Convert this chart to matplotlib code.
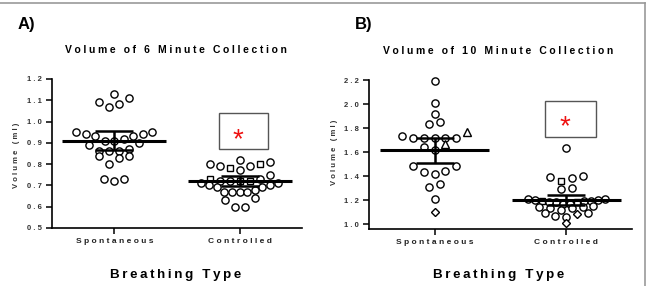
import numpy as np
import matplotlib
matplotlib.use("Agg")
import matplotlib.pyplot as plt
from matplotlib.patches import Rectangle
from matplotlib.lines import Line2D

plt.rcParams['font.family'] = ['Liberation Sans', 'DejaVu Sans']
plt.rcParams['font.weight'] = 'bold'

categories = ["Spontaneous", "Controlled"]

# Panel A: volume of 6 minute collection (ml)
a_spont = [1.13, 1.11, 1.09, 1.08, 1.07,
           0.95, 0.95, 0.94, 0.94, 0.93, 0.93, 0.92, 0.91, 0.91,
           0.90, 0.89, 0.87, 0.86, 0.86, 0.86,
           0.84, 0.84, 0.83, 0.80, 0.73, 0.73, 0.72]
a_spont_mk = ['o'] * len(a_spont)
a_ctrl = [0.82, 0.81, 0.80, 0.80, 0.79, 0.79, 0.78, 0.77,
          0.75, 0.73, 0.73, 0.72, 0.72, 0.72, 0.72,
          0.71, 0.71, 0.70, 0.70, 0.69, 0.69, 0.68, 0.67, 0.67, 0.67, 0.67,
          0.64, 0.63, 0.60, 0.60]
a_ctrl_mk = ['o', 'o', 's', 'o', 'o', 'o', 's', 'o',
             'o', 'o', 's', 's', 'o', 's', 'o',
             'o', 'o', 'o', 'o', 'o', 'o', 'o', 'o', 'o', 'o', 'o',
             'o', 'o', 'o', 'o']
a_mean = [0.91, 0.72]
a_err = [0.045, 0.022]

# Panel B: volume of 10 minute collection (ml)
b_spont = [2.19, 2.01, 1.92, 1.85, 1.83,
           1.77, 1.73, 1.72, 1.72, 1.72, 1.72, 1.72,
           1.67, 1.64, 1.62,
           1.48, 1.48, 1.44, 1.43, 1.42,
           1.33, 1.31, 1.21, 1.10]
b_spont_mk = ['o', 'o', 'o', 'o', 'o',
              '^', 'o', 'o', 'o', 'o', 'o', 'o',
              '^', 'o', 'o',
              'o', 'o', 'o', 'o', 'o',
              'o', 'o', 'o', 'D']
b_ctrl = [1.63, 1.40, 1.39, 1.38, 1.36, 1.30, 1.29,
          1.21, 1.21, 1.20, 1.20, 1.19, 1.19, 1.19, 1.18, 1.18, 1.18, 1.17, 1.17,
          1.15, 1.14, 1.14, 1.13, 1.13, 1.12,
          1.09, 1.09, 1.08, 1.07, 1.06, 1.01]
b_ctrl_mk = ['o', 'o', 'o', 'o', 's', 'o', 'o',
             'o', 'o', 'o', 'o', 'o', 's', 'o', 'o', 's', 'o', 'o', 'o',
             'o', 'o', 'o', 'o', 'o', 'o',
             'o', 'o', 'D', 'o', 'o', 'D']
b_mean = [1.615, 1.20]
b_err = [0.105, 0.045]

SEP = '\u2005'


def spaced(s, sep=SEP):
    return sep.join(s)


def row_layout(values, pxx, pxy, binh, step, maxw):
    """Prism-like scatter: bin values (bottom-up) into rows, spread each row."""
    values = np.asarray(values, dtype=float)
    idx = sorted(range(len(values)), key=lambda i: values[i])
    rows, cur, start = [], [], None
    for i in idx:
        if start is None or (values[i] - start) * pxy > binh:
            if cur:
                rows.append(cur)
            cur, start = [i], values[i]
        else:
            cur.append(i)
    if cur:
        rows.append(cur)
    xs = np.zeros(len(values))
    for r in rows:
        n = len(r)
        s = step if n < 2 else min(step, maxw / (n - 1))
        slots = [(k - (n - 1) / 2.0) * s for k in range(n)]
        slots = sorted(slots, key=lambda o: (round(abs(o), 6), o))
        r_sorted = sorted(r, key=lambda i: values[i])
        for i, o in zip(r_sorted, slots):
            xs[i] = o / pxx
    return xs


fig = plt.figure(figsize=(6.47, 2.86), dpi=100)
axA = fig.add_axes([0.080, 0.203, 0.387, 0.521])
axB = fig.add_axes([0.570, 0.199, 0.407, 0.521])

ms_map = {'o': 5.2, 's': 5.0, '^': 5.5, 'D': 3.6}


def draw(ax, groups, markers, means, errs, ylim, yticks, fmt, box, ast,
         pxx, pxy, binhs, step):
    ax.set_xlim(-0.5, 1.5)
    ax.set_ylim(*ylim)
    for i, (vals, mks) in enumerate(zip(groups, markers)):
        off = row_layout(vals, pxx, pxy, binhs[i], step, 76.0)
        for xo, v, m in zip(off, vals, mks):
            ax.plot(i + xo, v, marker=m, ms=ms_map[m], mfc='white', mec='black',
                    mew=1.0, ls='none', zorder=3, clip_on=False)
        ax.hlines(means[i], i - 0.415, i + 0.415, color='black', lw=2.2, zorder=5)
        ax.errorbar(i, means[i], yerr=errs[i], color='black', lw=1.8,
                    capsize=14, capthick=1.8, zorder=5)
    x0, y0, w, h = box
    ax.add_patch(Rectangle((x0, y0), w, h, fill=True, fc='white', ec='#555555',
                           lw=1.0, zorder=2))
    ax.text(ast[0], ast[1], '*', color='#ee1111', fontsize=20, ha='center',
            va='center', fontweight='normal', zorder=3)
    for sp in ['top', 'right']:
        ax.spines[sp].set_visible(False)
    for sp in ['left', 'bottom']:
        ax.spines[sp].set_linewidth(1.2)
    ax.set_yticks(yticks)
    ax.set_yticklabels([spaced(fmt % t, ' ') for t in yticks], fontsize=5.5,
                       color='#333333', fontweight='bold')
    ax.set_xticks([0, 1])
    ax.set_xticklabels([spaced(c, ' ') for c in categories], fontsize=6,
                       color='#222222', fontweight='bold')
    ax.tick_params(axis='both', length=4, width=1.1, direction='out', pad=3)


draw(axA, [a_spont, a_ctrl], [a_spont_mk, a_ctrl_mk], a_mean, a_err,
     (0.5, 1.2), np.round(np.arange(0.5, 1.21, 0.1), 1), '%.1f',
     (0.835, 0.87, 0.395, 0.17), (0.985, 0.914), 125.0, 213.0, (9.0, 9.0), 10.0)
draw(axB, [b_spont, b_ctrl], [b_spont_mk, b_ctrl_mk], b_mean, b_err,
     (0.958, 2.2), np.round(np.arange(1.0, 2.21, 0.2), 1), '%.1f',
     (0.838, 1.725, 0.385, 0.30), (0.99, 1.808), 130.0, 120.0, (9.0, 5.0), 10.7)

fig.text(176 / 647, 1 - 50 / 286, spaced("Volume of 6 Minute Collection"),
         fontsize=7.5, fontweight='bold', ha='center', va='center')
fig.text(498 / 647, 1 - 51 / 286, spaced("Volume of 10 Minute Collection"),
         fontsize=7.5, fontweight='bold', ha='center', va='center')

fig.text(176 / 647, 1 - 275 / 286, spaced("Breathing Type", '\u2009'), fontsize=9.6,
         fontweight='bold', ha='center', va='center')
fig.text(499 / 647, 1 - 275 / 286, spaced("Breathing Type", '\u2009'), fontsize=9.6,
         fontweight='bold', ha='center', va='center')
fig.text(17 / 647, 1 - 155 / 286, spaced("Volume (ml)", ' '), fontsize=5.5,
         rotation=90, fontweight='bold', ha='center', va='center', color='#333333')
fig.text(334 / 647, 1 - 152 / 286, spaced("Volume (ml)", ' '), fontsize=5.5,
         rotation=90, fontweight='bold', ha='center', va='center', color='#333333')
fig.text(26 / 647, 1 - 25 / 286, "A)", fontsize=12, fontweight='bold',
         ha='center', va='center')
fig.text(364 / 647, 1 - 25 / 286, "B)", fontsize=12, fontweight='bold',
         ha='center', va='center')

fig.add_artist(Line2D([0, 645 / 647], [1 - 3 / 286] * 2, color='#999999', lw=1.2))
fig.add_artist(Line2D([645 / 647] * 2, [0, 1 - 3 / 286], color='#999999', lw=1.2))

fig.savefig("out.png", dpi=100)
